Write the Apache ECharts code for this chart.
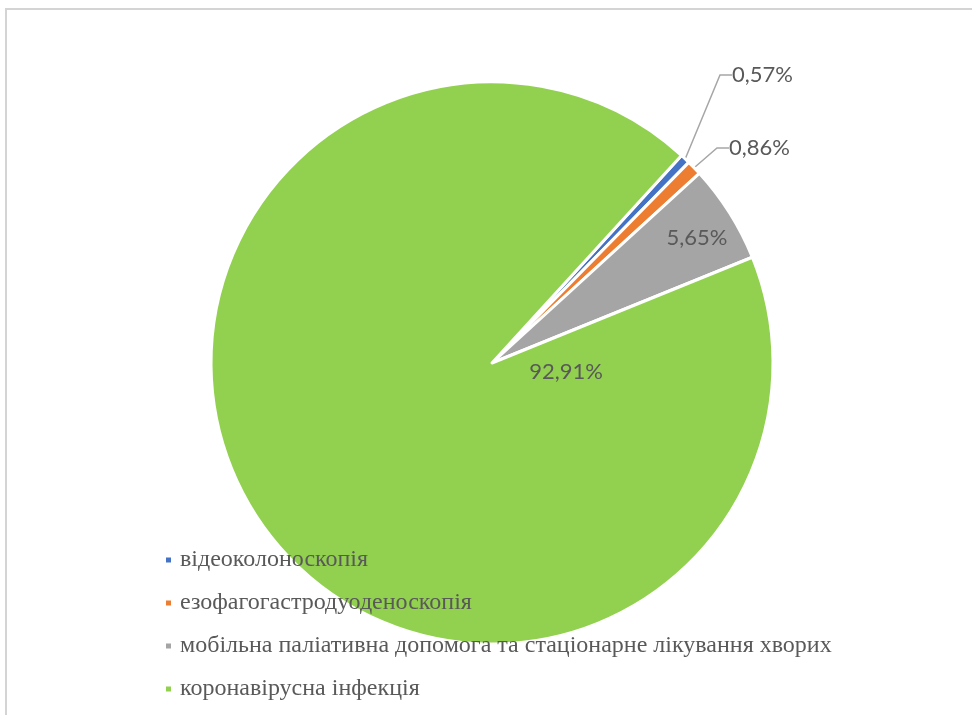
<!DOCTYPE html>
<html>
<head>
<meta charset="utf-8">
<script src="https://cdn.jsdelivr.net/npm/echarts@6/dist/echarts.min.js"></script>
<style>
  html, body { margin: 0; padding: 0; background: #fff; }
  #frame { position: absolute; left: 5px; top: 8px; width: 1200px; height: 1000px; border-top: 2px solid #d4d4d4; border-left: 2px solid #d4d4d4; }
  #chart { position: absolute; left: 0; top: 0; width: 972px; height: 715px; }
</style>
</head>
<body>
<div id="frame"></div>
<div id="chart"></div>
<script>
// дані
const categories = [
  "відеоколоноскопія",
  "езофагогастродуоденоскопія",
  "мобільна паліативна допомога та стаціонарне лікування хворих",
  "коронавірусна інфекція"
];
const shares = [0.57, 0.86, 5.65, 92.91];
const colors = ["#4472C4", "#ED7D31", "#A5A5A5", "#92D050"];

// положення підписів (як у Excel)
const labelSpots = [
  { x: 732, y: 75, align: "left" },
  { x: 729, y: 148, align: "left" },
  { x: 697, y: 238, align: "center" },
  { x: 566, y: 372, align: "center" }
];

const myChart = echarts.init(document.getElementById("chart"));

const option = {
  animation: false,
  color: colors,
  legend: {
    orient: "vertical",
    left: 164,
    top: 548,
    padding: 0,
    icon: "rect",
    itemWidth: 7,
    itemHeight: 7,
    itemGap: 19,
    textStyle: {
      fontFamily: "Liberation Serif",
      fontSize: 24,
      lineHeight: 24,
      color: "#595959",
      padding: [0, 0, 0, 3]
    },
    data: categories
  },
  series: [
    {
      type: "pie",
      center: [492, 363],
      radius: 281,
      startAngle: 47.6,
      clockwise: true,
      avoidLabelOverlap: false,
      itemStyle: { borderColor: "#fff", borderWidth: 3 },
      label: {
        fontFamily: "Lato",
        fontSize: 22,
        color: "#595959",
        formatter: function (p) {
          return p.value.toFixed(2).replace(".", ",") + "%";
        }
      },
      labelLine: {
        length: 10,
        length2: 12,
        lineStyle: { color: "#a6a6a6", width: 1.5 }
      },
      labelLayout: function (p) {
        const s = labelSpots[p.dataIndex];
        return { x: s.x, y: s.y, align: s.align, verticalAlign: "middle" };
      },
      data: categories.map(function (name, i) {
        const inside = i >= 2;
        return {
          name: name,
          value: shares[i],
          label: { position: inside ? "inside" : "outside" },
          labelLine: { show: !inside }
        };
      })
    }
  ]
};

myChart.setOption(option);
</script>
</body>
</html>
